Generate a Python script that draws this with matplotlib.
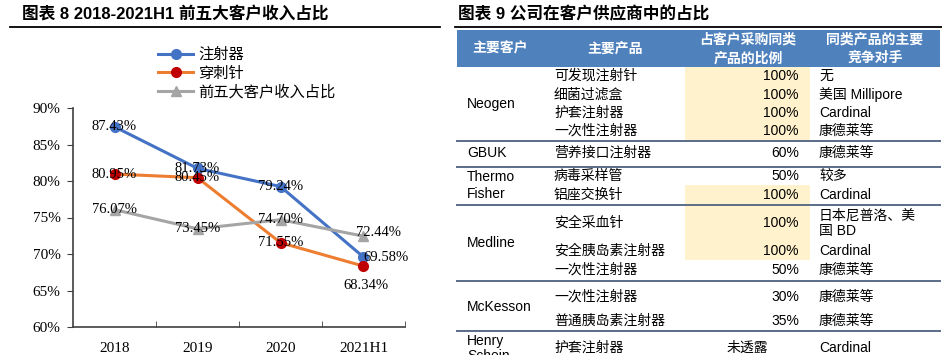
import matplotlib
matplotlib.use("Agg")
import matplotlib.pyplot as plt
from matplotlib.patches import Rectangle

# chart data
years = ["2018", "2019", "2020", "2021H1"]
syringe = [87.43, 81.73, 79.24, 69.58]
needle = [80.95, 80.45, 71.55, 68.34]
top5 = [76.07, 73.45, 74.70, 72.44]
series_names = ["注射器", "穿刺针", "前五大客户收入占比"]
y_ticks = [60, 65, 70, 75, 80, 85, 90]

# table data
header = ["主要客户", "主要产品", "占客户采购同类\n产品的比例", "同类产品的主要\n竞争对手"]
customers = ["Neogen", "GBUK", "Thermo\nFisher", "Medline", "McKesson", "Henry\nSchein"]
products = ["可发现注射针", "细菌过滤盒", "护套注射器", "一次性注射器", "营养接口注射器",
            "病毒采样管", "铝座交换针", "安全采血针", "安全胰岛素注射器", "一次性注射器",
            "一次性注射器", "普通胰岛素注射器", "护套注射器"]
ratios = ["100%", "100%", "100%", "100%", "60%", "50%", "100%", "100%", "100%", "50%",
          "30%", "35%", "未透露"]
rivals = ["无", "美国 Millipore", "Cardinal", "康德莱等", "康德莱等", "较多", "Cardinal",
          "日本尼普洛、美\n国 BD", "Cardinal", "康德莱等", "康德莱等", "康德莱等", "Cardinal"]

# layout (pixels)
W, H = 942, 355
row_y = [76, 95, 113, 131, 153, 176, 195, 223, 251, 270, 297, 321, 348]
cust_y = [104, 153, 185.5, 243, 307, 348.5]
sep_y = [140.5, 167, 205, 281, 331]
hl_bands = [(67, 140), (185, 260)]

cjk = ["Noto Sans CJK SC"]
mixed = ["Liberation Sans", "Noto Sans CJK SC"]
serif = ["Liberation Serif"]

fig = plt.figure(figsize=(W / 100, H / 100), dpi=100)

ov = fig.add_axes([0, 0, 1, 1])
ov.set_xlim(0, W)
ov.set_ylim(H, 0)
ov.axis("off")

# titles
ov.text(22, 14, "图表 8 2018-2021H1 前五大客户收入占比", family=mixed, fontsize=12,
        weight="bold", va="center", ha="left")
ov.plot([10, 440], [27, 27], color="black", lw=1.3)
ov.text(458, 14, "图表 9 公司在客户供应商中的占比", family=mixed, fontsize=12,
        weight="bold", va="center", ha="left")
ov.plot([455, 942], [27, 27], color="black", lw=1.3)

# table header
ov.add_patch(Rectangle((457, 30), 483, 37, color="#4f81bd", lw=0))
head_x = [500, 615, 748, 875]
for hx, ht in zip(head_x, header):
    ov.text(hx, 49, ht, family=cjk, fontsize=10, weight="bold", color="white",
            ha="center", va="center", linespacing=1.4)

for y0, y1 in hl_bands:
    ov.add_patch(Rectangle((685, y0), 125, y1 - y0, color="#fff2cc", lw=0))

for sy in sep_y:
    ov.plot([457, 940], [sy, sy], color="#5b6d88", lw=1.4)

for cy, c in zip(cust_y, customers):
    ov.text(467, cy, c, family=mixed, fontsize=10, ha="left", va="center",
            linespacing=1.3 if c.startswith("Thermo") else 1.15)

for ry, p, r, c in zip(row_y, products, ratios, rivals):
    ov.text(554, ry, p, family=mixed, fontsize=10, ha="left", va="center")
    if r.endswith("%"):
        ov.text(799, ry, r, family=mixed, fontsize=10, ha="right", va="center")
    else:
        ov.text(747, ry, r, family=mixed, fontsize=10, ha="center", va="center")
    ov.text(819, ry, c, family=mixed, fontsize=10, ha="left", va="center",
            linespacing=1.15)

# line chart
ax = fig.add_axes([73 / W, (H - 327) / H, 332 / W, 219 / H])
x = list(range(len(years)))
ax.plot(x, syringe, color="#4472c4", lw=2.2, marker="o", ms=7,
        mfc="#4472c4", mec="#4472c4", label=series_names[0], zorder=3)
ax.plot(x, needle, color="#ed7d31", lw=2.2, marker="o", ms=7,
        mfc="#c00000", mec="#c00000", label=series_names[1], zorder=3)
ax.plot(x, top5, color="#a5a5a5", lw=2.2, marker="^", ms=7,
        mfc="#a5a5a5", mec="#a5a5a5", label=series_names[2], zorder=3)

ax.set_xlim(-0.5, len(years) - 0.5)
ax.set_ylim(60, 90)
ax.set_yticks(y_ticks)
ax.set_yticklabels([f"{v}%" for v in y_ticks], family=serif, fontsize=11)
ax.set_xticks(x)
ax.set_xticklabels(years, family=serif, fontsize=11)
ax.set_xticks([i + 0.5 for i in x], minor=True)
ax.tick_params(axis="x", which="major", length=0, pad=11)
ax.tick_params(axis="x", which="minor", direction="in", length=4, color="#404040")
ax.tick_params(axis="y", direction="out", length=4, color="#404040", pad=5)
for s in ["top", "right"]:
    ax.spines[s].set_visible(False)
for s in ["left", "bottom"]:
    ax.spines[s].set_color("#404040")
    ax.spines[s].set_linewidth(1.2)
ax.patch.set_alpha(0)

# data labels: offsets in points (dx, dy, ha)
def put(xi, v, dx=0, dy=0, ha="center"):
    ax.annotate(f"{v:.2f}%", (xi, v), xytext=(dx, dy), textcoords="offset points",
                ha=ha, va="center", family=serif, fontsize=10.5, zorder=5)

for i, v in enumerate(syringe):
    if i == 3:
        put(i, v, 0, 0, "left")
    else:
        put(i, v)
for i, v in enumerate(needle):
    if i == 3:
        put(i, v, 1.5, -14)
    else:
        put(i, v)
for i, v in enumerate(top5):
    if i == 3:
        put(i, v, 11, 3)
    else:
        put(i, v)

leg = ax.legend(loc="upper left", bbox_to_anchor=(158 / W, 1 - 46 / H),
                bbox_transform=fig.transFigure, frameon=False, borderpad=0,
                borderaxespad=0, handlelength=2.3, handletextpad=0.35,
                labelspacing=0.1, prop={"family": cjk, "size": 11})

fig.savefig("out.png", dpi=100)
